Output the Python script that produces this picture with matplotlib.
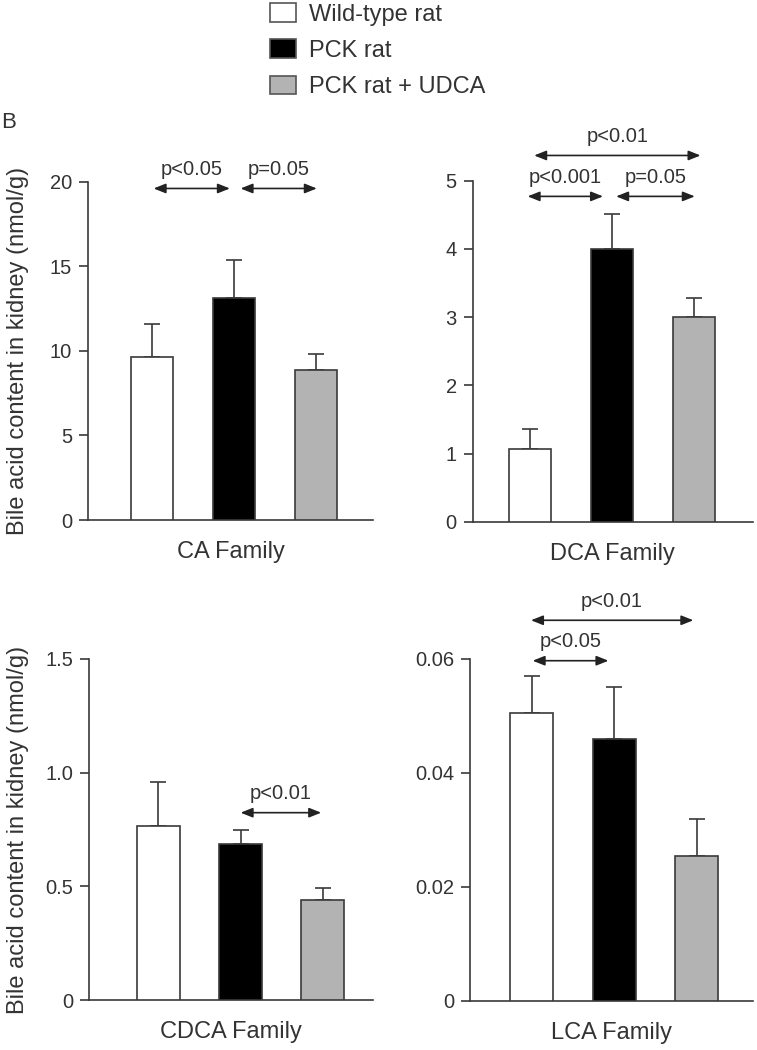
import matplotlib
matplotlib.use("Agg")
import matplotlib.pyplot as plt
from matplotlib.patches import Patch
from matplotlib.ticker import FixedLocator

plt.rcParams['font.family'] = ['Liberation Sans', 'DejaVu Sans']

# ---------------- data ----------------
groups = ["Wild-type rat", "PCK rat", "PCK rat + UDCA"]
group_colors = ["#ffffff", "#000000", "#b3b3b3"]
families = ["CA Family", "DCA Family", "CDCA Family", "LCA Family"]

ca_mean = [9.66, 13.13, 8.88]
ca_err = [1.94, 2.24, 0.92]
dca_mean = [1.07, 4.00, 3.00]
dca_err = [0.29, 0.51, 0.28]
cdca_mean = [0.767, 0.685, 0.441]
cdca_err = [0.193, 0.065, 0.053]
lca_mean = [0.0505, 0.0460, 0.0254]
lca_err = [0.0066, 0.0090, 0.0065]

ca_ticks = [0, 5, 10, 15, 20]
ca_ticklabels = ["0", "5", "10", "15", "20"]
dca_ticks = [0, 1, 2, 3, 4, 5]
dca_ticklabels = ["0", "1", "2", "3", "4", "5"]
cdca_ticks = [0, 0.5, 1.0, 1.5]
cdca_ticklabels = ["0", "0.5", "1.0", "1.5"]
lca_ticks = [0, 0.02, 0.04, 0.06]
lca_ticklabels = ["0", "0.02", "0.04", "0.06"]

# significance brackets: (x_start, x_end, y, label)
ca_sig = [(0.02, 0.95, 19.6, "p<0.05"), (1.08, 2.01, 19.6, "p=0.05")]
dca_sig = [(-0.03, 0.89, 4.77, "p<0.001"), (1.05, 2.01, 4.77, "p=0.05"),
           (0.05, 2.08, 5.37, "p<0.01")]
cdca_sig = [(1.0, 1.98, 0.824, "p<0.01")]
lca_sig = [(0.01, 0.93, 0.0597, "p<0.05"), (-0.01, 1.96, 0.0668, "p<0.01")]

ylabel = "Bile acid content in kidney (nmol/g)"

# ---------------- figure ----------------
W, H = 757, 1050
fig = plt.figure(figsize=(W / 100, H / 100), dpi=100)
ink = "#3a3a3a"
txt = "#333333"

def px_axes(left, right, bottom, top):
    return fig.add_axes([left / W, (H - bottom) / H, (right - left) / W, (bottom - top) / H])

panels = [
    dict(box=(88, 373, 520, 181.7), xlim=(-0.78, 2.695), mean=ca_mean, err=ca_err,
         ylim=(0, 20), ticks=ca_ticks, tl=ca_ticklabels, sig=ca_sig, name=families[0], ylab=True),
    dict(box=(472.7, 753, 521.7, 180.7), xlim=(-0.70, 2.72), mean=dca_mean, err=dca_err,
         ylim=(0, 5), ticks=dca_ticks, tl=dca_ticklabels, sig=dca_sig, name=families[1], ylab=False),
    dict(box=(89.3, 373, 1000, 659), xlim=(-0.84, 2.61), mean=cdca_mean, err=cdca_err,
         ylim=(0, 1.5), ticks=cdca_ticks, tl=cdca_ticklabels, sig=cdca_sig, name=families[2], ylab=True),
    dict(box=(470, 752.7, 1000.7, 659), xlim=(-0.75, 2.68), mean=lca_mean, err=lca_err,
         ylim=(0, 0.06), ticks=lca_ticks, tl=lca_ticklabels, sig=lca_sig, name=families[3], ylab=False),
]

for p in panels:
    l, r, b, t = p["box"]
    ax = px_axes(l, r, b, t)
    x = list(range(len(groups)))
    ax.bar(x, p["mean"], width=0.52, color=group_colors, edgecolor=ink, linewidth=1.2, zorder=3)
    ax.errorbar(x, p["mean"], yerr=[[0] * 3, p["err"]], fmt="none", ecolor=ink,
                elinewidth=1.2, capsize=5.5, capthick=1.2, zorder=2)
    ax.set_xlim(*p["xlim"])
    ax.set_ylim(*p["ylim"])
    ax.yaxis.set_major_locator(FixedLocator(p["ticks"]))
    ax.set_yticklabels(p["tl"])
    ax.set_xticks([])
    for s in ["top", "right"]:
        ax.spines[s].set_visible(False)
    for s in ["left", "bottom"]:
        ax.spines[s].set_color(ink)
        ax.spines[s].set_linewidth(1.2)
    ax.tick_params(axis="y", length=6.5, width=1.2, color=ink, labelcolor=txt,
                   labelsize=14.5, pad=5)
    ax.set_xlabel(p["name"], fontsize=17, color=txt, labelpad=15)
    if p["ylab"]:
        ax.set_ylabel(ylabel, fontsize=17, color=txt)
        ax.yaxis.label.set_verticalalignment("center")
        ax.yaxis.set_label_coords((18 - l) / (r - l), 0.5)
    for x1, x2, y, lab in p["sig"]:
        ax.annotate("", xy=(x2, y), xytext=(x1, y), annotation_clip=False,
                    arrowprops=dict(arrowstyle="<|-|>,head_length=0.6,head_width=0.24",
                                    color="#222222", lw=1.2, shrinkA=0, shrinkB=0,
                                    mutation_scale=12))
        ax.annotate(lab, xy=((x1 + x2) / 2, y), xytext=(0, 9.8), textcoords="offset points",
                    ha="center", va="baseline", fontsize=14.5, color=txt,
                    annotation_clip=False)

# legend
handles = [Patch(facecolor=c, edgecolor="#555555", linewidth=1.2) for c in group_colors]
fig.legend(handles, groups, loc="upper left", bbox_to_anchor=(270 / W, 1 - 3 / H),
           frameon=False, fontsize=17, handlelength=1.1, handleheight=0.85,
           labelspacing=0.58, handletextpad=0.55, borderaxespad=0.0, borderpad=0.0,
           labelcolor=txt)

fig.text(1 / W, 1 - 123 / H, "B", fontsize=16, color=txt, ha="left", va="center")

fig.savefig("out.png", dpi=100)
